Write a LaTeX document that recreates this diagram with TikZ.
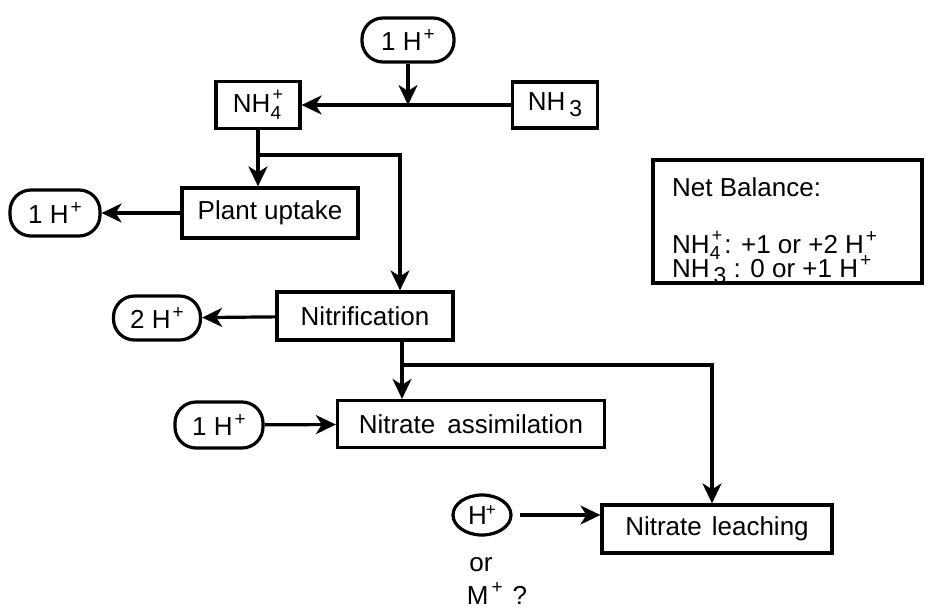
\documentclass[tikz,border=0pt]{standalone}
\usepackage{fontspec}
\setmainfont{Liberation Sans}
\usetikzlibrary{arrows.meta,shapes.geometric}

\tikzset{
  box/.style={draw, line width=3.2pt, font=\fontsize{26}{28}\selectfont, inner sep=0pt},
  pill/.style={draw, line width=3.2pt, rounded corners=21pt, font=\fontsize{26}{28}\selectfont, inner sep=0pt},
  txt/.style={font=\fontsize{26}{28}\selectfont, inner sep=0pt},
  arr/.style={line width=3.2pt, -{Stealth[length=20pt,width=19pt,inset=6pt]}}
}
\newcommand{\nhfour}{NH\rlap{\raisebox{-0.5ex}{\fontsize{19}{20}\selectfont 4}}\raisebox{0.85ex}{\hspace{2pt}\fontsize{18}{20}\selectfont +}\hspace{2pt}}
\newcommand{\nhthree}{NH\raisebox{-0.45ex}{\fontsize{23}{24}\selectfont\,3}}
\newcommand{\hion}{H\raisebox{0.75ex}{\hspace{2pt}\fontsize{19}{20}\selectfont +}}

\begin{document}
\begin{tikzpicture}[x=1pt, y=-1pt]
    \useasboundingbox (0,0) rectangle (934,608);

    % ammonium / ammonia
    \node[pill, minimum width=92, minimum height=44] (hTop) at (408,40) {1 \hion};
    \node[box, minimum width=84, minimum height=47] (nhf) at (258,105) {\nhfour};
    \node[box, minimum width=85, minimum height=46] (nht) at (555,105) {\nhthree};
    \coordinate (j1) at (408,105);
    \draw[arr] (nht) -- (nhf);
    \draw[arr] (hTop) -- (j1);

    % plant uptake
    \node[box, minimum width=176, minimum height=50] (plant) at (270,213) {Plant uptake};
    \node[pill, minimum width=90, minimum height=46] (hPlant) at (55,213) {1 \hion};
    \coordinate (j2) at (258,155);
    \draw[arr] (nhf.south) -- (nhf.south |- plant.north);
    \draw[arr] (plant) -- (hPlant);

    % nitrification
    \node[box, minimum width=176, minimum height=48] (nitr) at (365,316) {Nitrification};
    \node[pill, minimum width=87, minimum height=44] (hNitr) at (157,318) {2 \hion};
    \draw[arr] (j2) -| ([xshift=35pt]nitr.north);
    \draw[arr] (nitr) -- (hNitr);

    % nitrate assimilation
    \node[box, minimum width=267, minimum height=47] (assim) at (471,424) {Nitrate\hspace{12pt}assimilation};
    \node[pill, minimum width=88, minimum height=46] (hAssim) at (219,425) {1 \hion};
    \coordinate (j3) at (402,365);
    \draw[arr] ([xshift=37pt]nitr.south) -- (j3 |- assim.north);
    \draw[arr] (hAssim) -- (assim);

    % nitrate leaching
    \node[box, minimum width=230, minimum height=48] (leach) at (717,529) {Nitrate\hspace{10pt}leaching};
    \node[draw, ellipse, line width=3.2pt, minimum width=58, minimum height=40, inner sep=0pt,
          font=\fontsize{26}{28}\selectfont] (hCirc) at (482,515) {H\raisebox{0.6ex}{\hspace{-1pt}\fontsize{17}{18}\selectfont +}};
    \draw[arr] (j3) -| ([xshift=-5pt]leach.north);
    \draw[arr, shorten <=7pt] (hCirc.east) -- (leach.west |- hCirc);
    \node[txt, anchor=base] (orTxt) at (481,571) {or};
    \node[txt, anchor=base] (mTxt) at (497,604) {M\raisebox{0.75ex}{\hspace{3pt}\fontsize{19}{20}\selectfont +}\hspace{10pt}?};

    % net balance
    \node[draw, line width=3.2pt, minimum width=269, minimum height=123] (bal) at (787.5,221.5) {};
    \node[txt, anchor=base west] (balTitle) at (672,196) {Net Balance:};
    \node[txt, anchor=base west] (balA) at (672,253) {\nhfour: +1 or +2 \hion};
    \node[txt, anchor=base west] (balB) at (672,277) {\nhthree\ : 0 or +1 \hion};
\end{tikzpicture}
\end{document}
